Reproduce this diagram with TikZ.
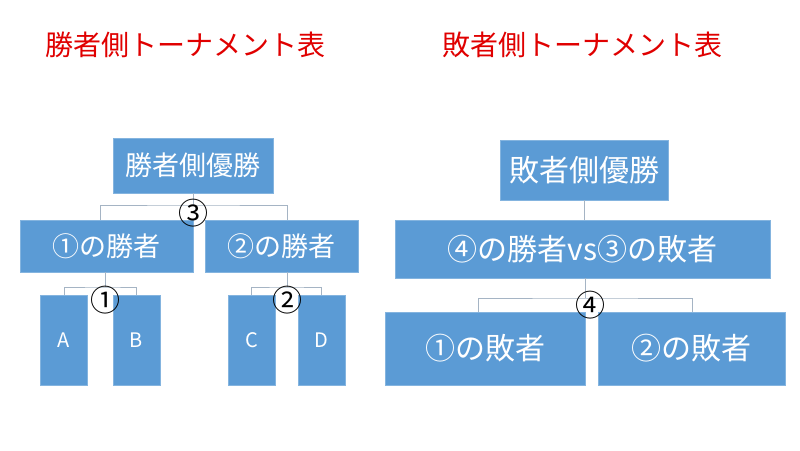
\documentclass[tikz,border=0pt]{standalone}
\usepackage{fontspec}
\setmainfont{Noto Sans CJK JP}
\begin{document}
\begin{tikzpicture}[x=1pt,y=-1pt,
  bx/.style={draw=boxblue!75!white,line width=0.8pt,fill=boxblue,text=white,inner sep=0pt,font=\fontsize{27}{29}\selectfont},
  ln/.style={draw=linegray,line width=0.8pt},
  num/.style={font=\fontsize{30}{32}\selectfont,inner sep=0pt,text=black},
  ttl/.style={text=titlered,font=\fontsize{28}{30}\selectfont}]
\definecolor{boxblue}{HTML}{5B9BD5}
\definecolor{linegray}{HTML}{A5B4C4}
\definecolor{titlered}{HTML}{E00000}
\useasboundingbox[fill=white] (0,0) rectangle (800,450);
\node[ttl] (t1) at (185,45) {勝者側トーナメント表};
\node[ttl] (t2) at (582,45) {敗者側トーナメント表};
% left
\node[bx,minimum width=160,minimum height=55] (w) at (193,165.5) {勝者側優勝};
\node[bx,minimum width=173,minimum height=52] (w1) at (106.5,246) {①の勝者};
\node[bx,minimum width=153,minimum height=52] (w2) at (281.5,246) {②の勝者};
\foreach \n/\x/\t in {a/64/A,b/136.5/B,c/251.5/C,d/321.5/D}
  \node[bx,minimum width=47,minimum height=90,font=\fontsize{20}{22}\selectfont] (\n) at (\x,340) {\t};
\coordinate (j3) at (193,205);
\draw[ln] (w.south) -- (j3) (w1.north -| 100,0) |- (j3) -| (w2.north -| 287,0);
\coordinate (j1) at (105,287);
\draw[ln] (w1.south -| j1) -- (j1) (a.north) |- (j1) -| (b.north);
\coordinate (j2) at (287,287);
\draw[ln] (w2.south -| j2) -- (j2) (c.north) |- (j2) -| (d.north);
\node[num] (n3) at (193,213) {③};
\node[num] (n1) at (105,300) {①};
\node[num] (n2) at (287,300) {②};
% right
\node[bx,minimum width=168,minimum height=60,font=\fontsize{30}{32}\selectfont] (l) at (584,170) {敗者側優勝};
\node[bx,minimum width=375,minimum height=58,font=\fontsize{30}{32}\selectfont] (l0) at (582.5,249) {④の勝者vs③の敗者};
\node[bx,minimum width=200,minimum height=73,font=\fontsize{30}{32}\selectfont] (l1) at (485,348.5) {①の敗者};
\node[bx,minimum width=187,minimum height=73,font=\fontsize{30}{32}\selectfont] (l2) at (691.5,348.5) {②の敗者};
\draw[ln] (l.south) -- (l0.north -| l.south);
\coordinate (j4) at (585,298);
\draw[ln] (l0.south -| j4) -- (j4) (l1.north -| 478,0) |- (j4) -| (l2.north -| 692,0);
\node[num] (n4) at (590,305) {④};
\end{tikzpicture}
\end{document}
